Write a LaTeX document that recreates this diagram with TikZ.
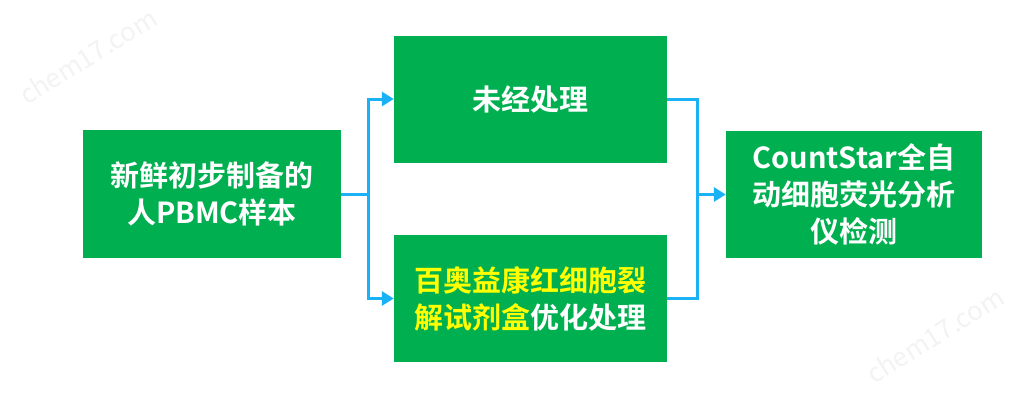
\documentclass[tikz,border=0pt]{standalone}
\usepackage{fontspec}
\setmainfont{Noto Sans CJK SC}[BoldFont={Noto Sans CJK SC Bold}]
\usetikzlibrary{arrows.meta}
\definecolor{boxgreen}{HTML}{00B050}
\definecolor{linkblue}{HTML}{1AB2F5}
\definecolor{txtyellow}{HTML}{FFFF00}
\definecolor{wmgray}{HTML}{F3F3F3}
\tikzset{
  box/.style={rectangle, fill=boxgreen, draw=none, text=white, align=center,
    font=\bfseries\fontsize{29}{37}\selectfont, inner sep=0pt},
  link/.style={draw=linkblue, line width=3pt, line join=miter},
  arr/.style={link, -{Triangle[length=12pt,width=14pt]}},
  wm/.style={text=wmgray, font=\fontsize{26}{26}\selectfont, rotate=32}
}
\begin{document}
\begin{tikzpicture}[x=1pt,y=-1pt]
\path[use as bounding box, fill=white] (0,0) rectangle (1026,400);
\node[wm] (wm1) at (88,56) {chem17.com};
\node[wm] (wm2) at (935,335) {chem17.com};
\node[box, minimum width=258pt, minimum height=128pt] (left) at (212,194) {新鲜初步制备的\\人PBMC样本};
\node[box, minimum width=273pt, minimum height=127pt] (top) at (530.5,99) {未经处理};
\node[box, minimum width=273pt, minimum height=127pt] (bot) at (530.5,298.5)
  {\textcolor{txtyellow}{百奥益康红细胞裂}\\\textcolor{txtyellow}{解试剂盒}优化处理};
\node[box, minimum width=256pt, minimum height=127pt] (right) at (854,194.5) {CountStar全自\\动细胞荧光分析\\仪检测};
\coordinate (j1) at (368,194);
\coordinate (j2) at (697,194.5);
\draw[link] (left.east) -- (j1);
\draw[arr] (j1) |- (top.west);
\draw[arr] (j1) |- (bot.west);
\draw[link] (top.east) -| (j2);
\draw[link] (bot.east) -| (j2);
\draw[arr] (j2) -- (right.west);
\end{tikzpicture}
\end{document}
